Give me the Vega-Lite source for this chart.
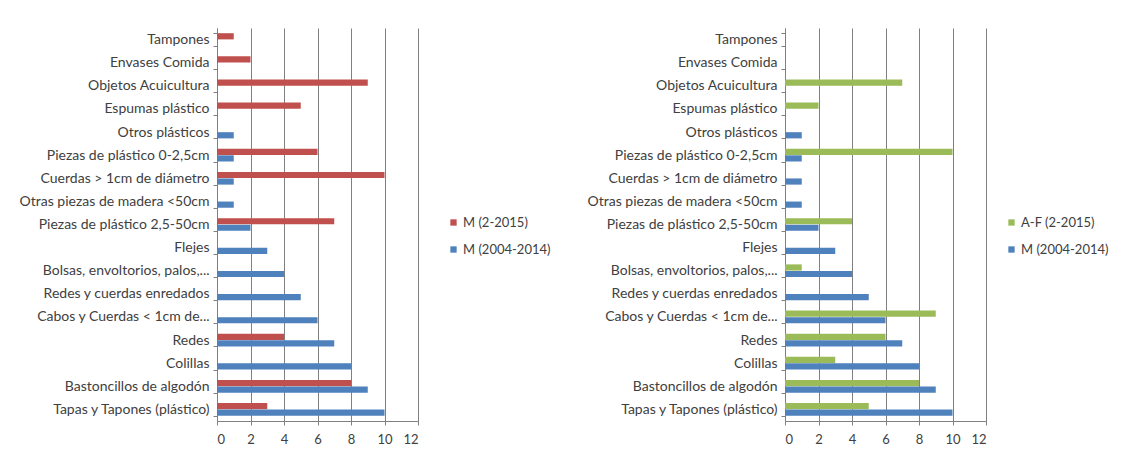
{
  "$schema": "https://vega.github.io/schema/vega-lite/v6.json",
  "background": "white",
  "padding": {"left": 19, "top": 21, "right": 5, "bottom": 5},
  "spacing": 36,
  "datasets": {
    "left": [
      {"cat": "Tampones", "serie": "M (2-2015)", "value": 1},
      {"cat": "Tampones", "serie": "M (2004-2014)", "value": 0},
      {"cat": "Envases Comida", "serie": "M (2-2015)", "value": 2},
      {"cat": "Envases Comida", "serie": "M (2004-2014)", "value": 0},
      {"cat": "Objetos Acuicultura", "serie": "M (2-2015)", "value": 9},
      {"cat": "Objetos Acuicultura", "serie": "M (2004-2014)", "value": 0},
      {"cat": "Espumas plástico", "serie": "M (2-2015)", "value": 5},
      {"cat": "Espumas plástico", "serie": "M (2004-2014)", "value": 0},
      {"cat": "Otros plásticos", "serie": "M (2-2015)", "value": 0},
      {"cat": "Otros plásticos", "serie": "M (2004-2014)", "value": 1},
      {"cat": "Piezas de plástico 0-2,5cm", "serie": "M (2-2015)", "value": 6},
      {"cat": "Piezas de plástico 0-2,5cm", "serie": "M (2004-2014)", "value": 1},
      {"cat": "Cuerdas > 1cm de diámetro", "serie": "M (2-2015)", "value": 10},
      {"cat": "Cuerdas > 1cm de diámetro", "serie": "M (2004-2014)", "value": 1},
      {"cat": "Otras piezas de madera <50cm", "serie": "M (2-2015)", "value": 0},
      {"cat": "Otras piezas de madera <50cm", "serie": "M (2004-2014)", "value": 1},
      {"cat": "Piezas de plástico 2,5-50cm", "serie": "M (2-2015)", "value": 7},
      {"cat": "Piezas de plástico 2,5-50cm", "serie": "M (2004-2014)", "value": 2},
      {"cat": "Flejes", "serie": "M (2-2015)", "value": 0},
      {"cat": "Flejes", "serie": "M (2004-2014)", "value": 3},
      {"cat": "Bolsas, envoltorios, palos,...", "serie": "M (2-2015)", "value": 0},
      {"cat": "Bolsas, envoltorios, palos,...", "serie": "M (2004-2014)", "value": 4},
      {"cat": "Redes y cuerdas enredados", "serie": "M (2-2015)", "value": 0},
      {"cat": "Redes y cuerdas enredados", "serie": "M (2004-2014)", "value": 5},
      {"cat": "Cabos y Cuerdas < 1cm de...", "serie": "M (2-2015)", "value": 0},
      {"cat": "Cabos y Cuerdas < 1cm de...", "serie": "M (2004-2014)", "value": 6},
      {"cat": "Redes", "serie": "M (2-2015)", "value": 4},
      {"cat": "Redes", "serie": "M (2004-2014)", "value": 7},
      {"cat": "Colillas", "serie": "M (2-2015)", "value": 0},
      {"cat": "Colillas", "serie": "M (2004-2014)", "value": 8},
      {"cat": "Bastoncillos de algodón", "serie": "M (2-2015)", "value": 8},
      {"cat": "Bastoncillos de algodón", "serie": "M (2004-2014)", "value": 9},
      {"cat": "Tapas y Tapones (plástico)", "serie": "M (2-2015)", "value": 3},
      {"cat": "Tapas y Tapones (plástico)", "serie": "M (2004-2014)", "value": 10}
    ],
    "right": [
      {"cat": "Tampones", "serie": "A-F (2-2015)", "value": 0},
      {"cat": "Tampones", "serie": "M (2004-2014)", "value": 0},
      {"cat": "Envases Comida", "serie": "A-F (2-2015)", "value": 0},
      {"cat": "Envases Comida", "serie": "M (2004-2014)", "value": 0},
      {"cat": "Objetos Acuicultura", "serie": "A-F (2-2015)", "value": 7},
      {"cat": "Objetos Acuicultura", "serie": "M (2004-2014)", "value": 0},
      {"cat": "Espumas plástico", "serie": "A-F (2-2015)", "value": 2},
      {"cat": "Espumas plástico", "serie": "M (2004-2014)", "value": 0},
      {"cat": "Otros plásticos", "serie": "A-F (2-2015)", "value": 0},
      {"cat": "Otros plásticos", "serie": "M (2004-2014)", "value": 1},
      {"cat": "Piezas de plástico 0-2,5cm", "serie": "A-F (2-2015)", "value": 10},
      {"cat": "Piezas de plástico 0-2,5cm", "serie": "M (2004-2014)", "value": 1},
      {"cat": "Cuerdas > 1cm de diámetro", "serie": "A-F (2-2015)", "value": 0},
      {"cat": "Cuerdas > 1cm de diámetro", "serie": "M (2004-2014)", "value": 1},
      {"cat": "Otras piezas de madera <50cm", "serie": "A-F (2-2015)", "value": 0},
      {"cat": "Otras piezas de madera <50cm", "serie": "M (2004-2014)", "value": 1},
      {"cat": "Piezas de plástico 2,5-50cm", "serie": "A-F (2-2015)", "value": 4},
      {"cat": "Piezas de plástico 2,5-50cm", "serie": "M (2004-2014)", "value": 2},
      {"cat": "Flejes", "serie": "A-F (2-2015)", "value": 0},
      {"cat": "Flejes", "serie": "M (2004-2014)", "value": 3},
      {"cat": "Bolsas, envoltorios, palos,...", "serie": "A-F (2-2015)", "value": 1},
      {"cat": "Bolsas, envoltorios, palos,...", "serie": "M (2004-2014)", "value": 4},
      {"cat": "Redes y cuerdas enredados", "serie": "A-F (2-2015)", "value": 0},
      {"cat": "Redes y cuerdas enredados", "serie": "M (2004-2014)", "value": 5},
      {"cat": "Cabos y Cuerdas < 1cm de...", "serie": "A-F (2-2015)", "value": 9},
      {"cat": "Cabos y Cuerdas < 1cm de...", "serie": "M (2004-2014)", "value": 6},
      {"cat": "Redes", "serie": "A-F (2-2015)", "value": 6},
      {"cat": "Redes", "serie": "M (2004-2014)", "value": 7},
      {"cat": "Colillas", "serie": "A-F (2-2015)", "value": 3},
      {"cat": "Colillas", "serie": "M (2004-2014)", "value": 8},
      {"cat": "Bastoncillos de algodón", "serie": "A-F (2-2015)", "value": 8},
      {"cat": "Bastoncillos de algodón", "serie": "M (2004-2014)", "value": 9},
      {"cat": "Tapas y Tapones (plástico)", "serie": "A-F (2-2015)", "value": 5},
      {"cat": "Tapas y Tapones (plástico)", "serie": "M (2004-2014)", "value": 10}
    ]
  },
  "config": {
    "font": "Lato",
    "view": {"stroke": null},
    "axis": {
      "labelFont": "Lato",
      "labelFontSize": 13,
      "labelColor": "#404040",
      "domainColor": "#808080",
      "tickColor": "#808080",
      "gridColor": "#808080",
      "title": null
    },
    "axisY": {"labelFontSize": 14},
    "legend": {
      "labelFont": "Lato",
      "labelFontSize": 13,
      "labelColor": "#404040",
      "symbolType": "square",
      "symbolSize": 40,
      "symbolStrokeWidth": 0,
      "labelOffset": 3,
      "rowPadding": 13,
      "title": null
    }
  },
  "hconcat": [
    {
      "width": 201,
      "height": 393,
      "data": {"name": "left"},
      "mark": {"type": "bar"},
      "encoding": {
        "y": {
          "field": "cat", "type": "nominal",
          "sort": ["Tampones", "Envases Comida", "Objetos Acuicultura", "Espumas plástico", "Otros plásticos", "Piezas de plástico 0-2,5cm", "Cuerdas > 1cm de diámetro", "Otras piezas de madera <50cm", "Piezas de plástico 2,5-50cm", "Flejes", "Bolsas, envoltorios, palos,...", "Redes y cuerdas enredados", "Cabos y Cuerdas < 1cm de...", "Redes", "Colillas", "Bastoncillos de algodón", "Tapas y Tapones (plástico)"],
          "scale": {"paddingInner": 0.45, "paddingOuter": 0.225},
          "axis": {"tickBand": "extent", "tickSize": 4, "labelPadding": 4, "labelLimit": 300, "grid": false}
        },
        "yOffset": {
          "field": "serie", "type": "nominal",
          "sort": ["M (2-2015)", "M (2004-2014)"],
          "scale": {"paddingInner": 0.05}
        },
        "x": {
          "field": "value", "type": "quantitative",
          "scale": {"domain": [0, 12], "nice": false},
          "axis": {"values": [0, 2, 4, 6, 8, 10, 12], "grid": true, "tickSize": 4, "labelPadding": 8, "domain": true}
        },
        "color": {
          "field": "serie", "type": "nominal",
          "scale": {"domain": ["M (2-2015)", "M (2004-2014)"], "range": ["#C0504D", "#4F81BD"]},
          "legend": {"orient": "none", "legendX": 230, "legendY": 188}
        }
      }
    },
    {
      "width": 201,
      "height": 393,
      "data": {"name": "right"},
      "mark": {"type": "bar"},
      "encoding": {
        "y": {
          "field": "cat", "type": "nominal",
          "sort": ["Tampones", "Envases Comida", "Objetos Acuicultura", "Espumas plástico", "Otros plásticos", "Piezas de plástico 0-2,5cm", "Cuerdas > 1cm de diámetro", "Otras piezas de madera <50cm", "Piezas de plástico 2,5-50cm", "Flejes", "Bolsas, envoltorios, palos,...", "Redes y cuerdas enredados", "Cabos y Cuerdas < 1cm de...", "Redes", "Colillas", "Bastoncillos de algodón", "Tapas y Tapones (plástico)"],
          "scale": {"paddingInner": 0.45, "paddingOuter": 0.225},
          "axis": {"tickBand": "extent", "tickSize": 4, "labelPadding": 4, "labelLimit": 300, "grid": false}
        },
        "yOffset": {
          "field": "serie", "type": "nominal",
          "sort": ["A-F (2-2015)", "M (2004-2014)"],
          "scale": {"paddingInner": 0.05}
        },
        "x": {
          "field": "value", "type": "quantitative",
          "scale": {"domain": [0, 12], "nice": false},
          "axis": {"values": [0, 2, 4, 6, 8, 10, 12], "grid": true, "tickSize": 4, "labelPadding": 8, "domain": true}
        },
        "color": {
          "field": "serie", "type": "nominal",
          "scale": {"domain": ["A-F (2-2015)", "M (2004-2014)"], "range": ["#9BBB59", "#4F81BD"]},
          "legend": {"orient": "none", "legendX": 220, "legendY": 188}
        }
      }
    }
  ],
  "resolve": {"scale": {"color": "independent", "y": "independent", "x": "independent", "yOffset": "independent"}, "legend": {"color": "independent"}}
}
